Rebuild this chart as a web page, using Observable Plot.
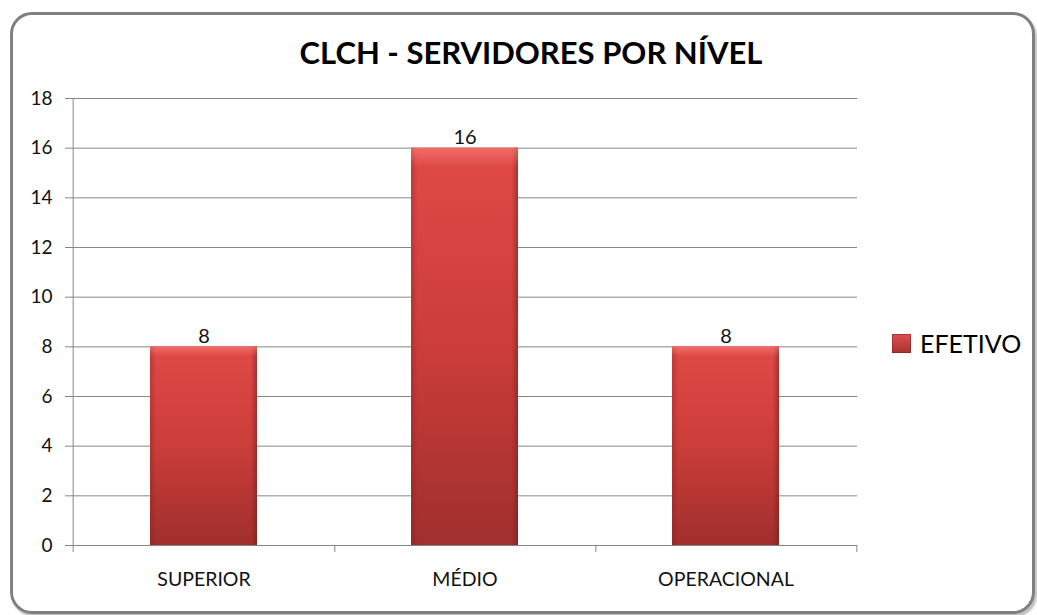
<!DOCTYPE html>
<html>
<head>
<meta charset="utf-8">
<script src="https://cdn.jsdelivr.net/npm/d3@7"></script>
<script src="https://cdn.jsdelivr.net/npm/@observablehq/plot@0.6"></script>
<style>
  html, body { margin: 0; padding: 0; background: #ffffff; }
  #wrap { position: relative; width: 1037px; height: 615px; overflow: hidden; font-family: Lato, "Open Sans", sans-serif; }
  #frame { position: absolute; left: 10px; top: 12px; width: 1019px; height: 596px; border: 3px solid #808080; border-radius: 22px; box-shadow: 2px 3px 2px rgba(0,0,0,0.25); background: #fff; }
  #title { position: absolute; left: 0; width: 1062px; top: 33px; text-align: center; font-weight: 700; font-size: 31px; color: #000; white-space: nowrap; }
  #chart { position: absolute; left: 0; top: 0; }
  #legend { position: absolute; left: 892px; top: 328px; display: flex; align-items: center; font-size: 25px; color: #000; }
  #legend .sw { width: 19px; height: 19px; margin-right: 9px; background: linear-gradient(#e0504c, #a83230); box-shadow: inset 0 0 0 1px rgba(120,30,30,0.5); }
</style>
</head>
<body>
<div id="wrap">
  <div id="frame"></div>
  <div id="title">CLCH - SERVIDORES POR NÍVEL</div>
  <div id="chart"></div>
  <div id="legend"><div class="sw"></div><span>EFETIVO</span></div>
</div>
<script>
const categories = ["SUPERIOR", "MÉDIO", "OPERACIONAL"];
const values = [8, 16, 8];
const yTicks = [0, 2, 4, 6, 8, 10, 12, 14, 16, 18];
const seriesName = "EFETIVO";

const data = categories.map((c, i) => ({cat: c, value: values[i]}));

const W = 1037, H = 615;
const mL = 72, mR = 180, mT = 98, mB = 70;
const step = (W - mL - mR) / categories.length;
const grid = "#868686";

const plot = Plot.plot({
  width: W,
  height: H,
  marginLeft: mL,
  marginRight: mR,
  marginTop: mT,
  marginBottom: mB,
  style: {fontFamily: "Lato, 'Open Sans', sans-serif", color: "#111", background: "transparent", overflow: "visible"},
  x: {domain: categories, paddingInner: 0.59, paddingOuter: 0.295, label: null},
  y: {domain: [0, 18], ticks: yTicks, label: null},
  marks: [
    Plot.gridY(yTicks, {stroke: grid, strokeOpacity: 1, strokeWidth: 1}),
    Plot.axisY(yTicks, {tickSize: 7, tickPadding: 13, stroke: grid, fontSize: 19, fill: "#111", label: null}),
    Plot.axisX({tickSize: 0, tickPadding: 27, fontSize: 19.5, fill: "#111", label: null}),
    Plot.ruleX([categories[0]], {dx: -step / 2, y1: 18, y2: 0, insetBottom: -7, stroke: grid}),
    Plot.ruleX(categories, {dx: step / 2, y1: 0, y2: 0, insetBottom: -7, stroke: grid}),
    Plot.ruleY([0], {stroke: grid}),
    Plot.barY(data, {x: "cat", y: "value", fill: "url(#barGradV)"}),
    Plot.barY(data, {x: "cat", y: "value", fill: "url(#barGradH)"}),
    Plot.barY(data, {x: "cat", y: "value", fill: "url(#barGradTop)"}),
    Plot.text(data, {x: "cat", y: "value", text: d => String(d.value), lineAnchor: "bottom", dy: -4, fontSize: 20, fill: "#111"})
  ]
});

const svgNS = "http://www.w3.org/2000/svg";
const defs = document.createElementNS(svgNS, "defs");
defs.innerHTML = `
  <linearGradient id="barGradV" x1="0" y1="0" x2="0" y2="1">
    <stop offset="0" stop-color="#e04a46"/>
    <stop offset="0.5" stop-color="#cb3d3a"/>
    <stop offset="1" stop-color="#a02f2d"/>
  </linearGradient>
  <linearGradient id="barGradH" x1="0" y1="0" x2="1" y2="0">
    <stop offset="0" stop-color="#7a1f1d" stop-opacity="0.35"/>
    <stop offset="0.06" stop-color="#7a1f1d" stop-opacity="0.0"/>
    <stop offset="0.94" stop-color="#7a1f1d" stop-opacity="0.0"/>
    <stop offset="1" stop-color="#6a1a18" stop-opacity="0.5"/>
  </linearGradient>
  <linearGradient id="barGradTop" gradientUnits="objectBoundingBox" x1="0" y1="0" x2="0" y2="0.05">
    <stop offset="0" stop-color="#ff8a86" stop-opacity="0.55"/>
    <stop offset="1" stop-color="#ff8a86" stop-opacity="0"/>
  </linearGradient>`;
plot.insertBefore(defs, plot.firstChild);
document.getElementById("chart").appendChild(plot);
</script>
</body>
</html>
